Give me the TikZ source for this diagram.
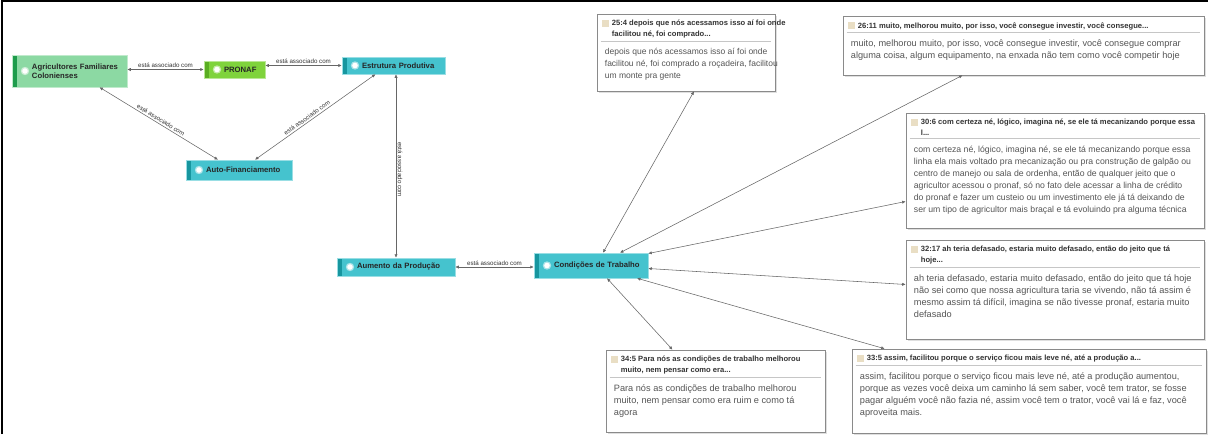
\documentclass[tikz,border=0pt]{standalone}
\usepackage{fontspec}
\setmainfont{Liberation Sans}
\usetikzlibrary{arrows.meta,calc,shadows}
\definecolor{tealf}{HTML}{45C3CE}
\definecolor{tealb}{HTML}{17969F}
\definecolor{agrif}{HTML}{8CD9A3}
\definecolor{agrib}{HTML}{1E9C4C}
\definecolor{pronf}{HTML}{7FD33C}
\definecolor{pronb}{HTML}{5AAE22}
\definecolor{qborder}{HTML}{8A8A8A}
\definecolor{qtext}{HTML}{555555}
\definecolor{qicon}{HTML}{E9DEC4}
\newcommand\cpad{\hspace*{17pt}}
\newcommand\qbox[8]{%
  \node[qframe, minimum width=#4pt, minimum height=#5pt] (#1) at (#2,#3) {};
  \node[qhead, anchor=north west] (#1h) at ([xshift=14pt,yshift=-5.5pt]#1.north west) {#6};
  \fill[qicon] ([xshift=5pt,yshift=-6pt]#1.north west) rectangle ++(7pt,-7pt);
  \draw[qsep] ([xshift=4pt,yshift=-1.5pt]#1.west |- #1h.south) -- ([xshift=-4pt,yshift=-1.5pt]#1.east |- #1h.south);
  \node[qbody, font=\fontsize{#8}{12}\selectfont, anchor=north west] (#1b) at ([xshift=7pt,yshift=-8pt]#1.west |- #1h.south) {#7};
}
\tikzset{
  concept/.style 2 args={fill=#1, draw=#1!55!white, line width=0.5pt, align=left,
    inner xsep=3pt, inner ysep=2pt, font=\fontsize{7.7}{9}\selectfont\bfseries, text=black!85,
    path picture={
      \fill[#2] (path picture bounding box.north west) rectangle ([xshift=5pt]path picture bounding box.south west);
      \fill[white,opacity=0.55] ([xshift=13pt]path picture bounding box.west) circle (4.2pt);
      \fill[white] ([xshift=13pt]path picture bounding box.west) circle (2.8pt);
    }},
  link/.style={draw=black!60, line width=0.55pt,
    {Latex[length=3.5pt,width=3.2pt]}-{Latex[length=3.5pt,width=3.2pt]}},
  elab/.style={font=\fontsize{6.2}{7}\selectfont, text=black!80, inner sep=1.5pt},
  qframe/.style={draw=qborder, fill=white, line width=0.6pt,
    drop shadow={shadow xshift=1.5pt, shadow yshift=-1.5pt, opacity=0.25}},
  qhead/.style={font=\fontsize{7.6}{10.5}\selectfont\bfseries, text=black!80, align=left, inner sep=1pt},
  qbody/.style={text=qtext, align=left, inner sep=1pt},
  qsep/.style={draw=gray!45, line width=0.5pt},
}
\begin{document}
\begin{tikzpicture}[x=1pt,y=-1pt]
\useasboundingbox (0,0) rectangle (1208,434);
\draw[black, line width=1.2pt] (2,434) -- (2,1) -- (1208,1);

% concepts
\node[concept={agrif}{agrib}, text width=109pt, minimum height=32pt] (agri) at (69.5,71) {\cpad Agricultores Familiares\\\cpad Colonienses};
\node[concept={pronf}{pronb}, text width=55pt, minimum height=17pt] (pron) at (234.5,69.5) {\cpad PRONAF};
\node[concept={tealf}{tealb}, text width=97pt, minimum height=17pt] (estr) at (393.5,65.5) {\cpad Estrutura Produtiva};
\node[concept={tealf}{tealb}, text width=100pt, minimum height=20pt] (auto) at (239,170) {\cpad Auto-Financiamento};
\node[concept={tealf}{tealb}, text width=112pt, minimum height=18pt] (aum) at (396,267) {\cpad Aumento da Produção};
\node[concept={tealf}{tealb}, text width=108pt, minimum height=25pt] (cond) at (591,265.5) {\cpad Condições de Trabalho};

% quotes
\qbox{q1}{686}{52.5}{178}{77}{25:4 depois que nós acessamos isso aí foi onde\\facilitou né, foi comprado...}{depois que nós acessamos isso aí foi onde\\facilitou né, foi comprado a roçadeira, facilitou\\um monte pra gente}{8.5}
\qbox{q2}{1023.5}{45.5}{361}{59}{26:11 muito, melhorou muito, por isso, você consegue investir, você consegue...}{muito, melhorou muito, por isso, você consegue investir, você consegue comprar\\alguma coisa, algum equipamento, na enxada não tem como você competir hoje}{9.2}
\qbox{q3}{1055}{170.5}{298}{115}{30:6 com certeza né, lógico, imagina né, se ele tá mecanizando porque essa\\l...}{com certeza né, lógico, imagina né, se ele tá mecanizando porque essa\\linha ela mais voltado pra mecanização ou pra construção de galpão ou\\centro de manejo ou sala de ordenha, então de qualquer jeito que o\\agricultor acessou o pronaf, só no fato dele acessar a linha de crédito\\do pronaf e fazer um custeio ou um investimento ele já tá deixando de\\ser um tipo de agricultor mais braçal e tá evoluindo pra alguma técnica}{8.7}
\qbox{q4}{1055}{289.5}{298}{99}{32:17 ah teria defasado, estaria muito defasado, então do jeito que tá\\hoje...}{ah teria defasado, estaria muito defasado, então do jeito que tá hoje\\não sei como que nossa agricultura taria se vivendo, não tá assim é\\mesmo assim tá difícil, imagina se não tivesse pronaf, estaria muito\\defasado}{9.2}
\qbox{q5}{715.5}{391}{219}{82}{34:5 Para nós as condições de trabalho melhorou\\muito, nem pensar como era...}{Para nós as condições de trabalho melhorou\\muito, nem pensar como era ruim e como tá\\agora}{9.2}
\qbox{q6}{1029}{391}{354}{84}{33:5 assim, facilitou porque o serviço ficou mais leve né, até a produção a...}{assim, facilitou porque o serviço ficou mais leve né, até a produção aumentou,\\porque as vezes você deixa um caminho lá sem saber, você tem trator, se fosse\\pagar alguém você não fazia né, assim você tem o trator, você vai lá e faz, você\\aproveita mais.}{9.2}

% concept links
\draw[link] (agri.east |- pron.west) -- node[elab, above] {está associado com} (pron.west);
\draw[link] (pron.east |- estr.west) -- node[elab, above] {está associado com} (estr.west);
\draw[link] ([xshift=30pt]agri.south) -- node[elab, sloped, above] {está associado com} ([xshift=-21pt]auto.north);
\draw[link] ([xshift=16pt]auto.north) -- node[elab, sloped, above, pos=0.45] {está associado com} ([xshift=-18pt]estr.south);
\draw[link] (aum.north |- estr.south) -- node[elab, sloped, above, pos=0.52] {está associado com} (aum.north);
\draw[link] (aum.east) -- node[elab, above] {está associado com} (aum.east -| cond.west);

% quote links
\draw[link] ([xshift=12pt]cond.north) -- ([xshift=8pt]q1.south);
\draw[link] ([xshift=29pt]cond.north) -- ([xshift=-61pt]q2.south);
\draw[link] ([yshift=12pt]cond.east) -- ([yshift=-31pt]q3.west);
\draw[link] ([yshift=-3pt]cond.east) -- ([yshift=5pt]q4.west);
\draw[link] ([xshift=16pt]cond.south) -- ([xshift=-43pt]q5.north);
\draw[link] ([xshift=46pt]cond.south) -- ([xshift=33pt]q6.north west);
\end{tikzpicture}
\end{document}
